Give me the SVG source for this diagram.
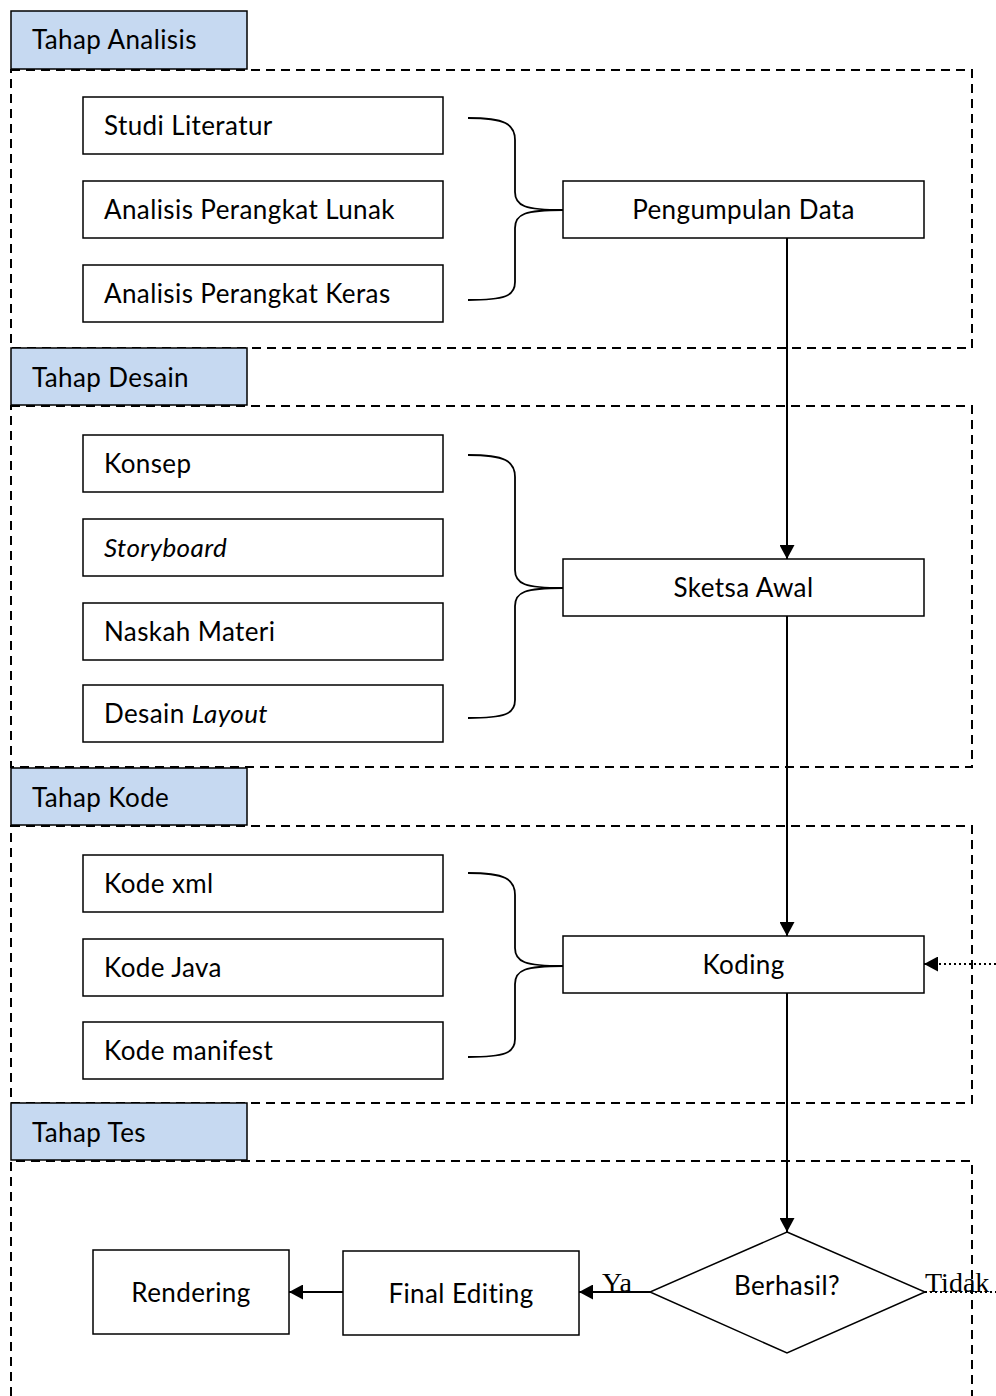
<svg xmlns="http://www.w3.org/2000/svg" width="996" height="1396" viewBox="0 0 996 1396">
  <defs>
    <marker id="arrowBig" viewBox="0 0 14 15" refX="14" refY="7.5" markerWidth="14" markerHeight="15" markerUnits="userSpaceOnUse" orient="auto">
      <path d="M0,0 L14,7.5 L0,15 z" fill="#000"/>
    </marker>
  </defs>
  <style>
    .box { fill: #fff; stroke: #000; stroke-width: 1.5; }
    .tab { fill: #c6d9f1; stroke: #000; stroke-width: 1.5; }
    .section { fill: none; stroke: #000; stroke-width: 2; stroke-dasharray: 9 6; }
    .label { font-family: Lato, "Liberation Sans", sans-serif; font-size: 26px; letter-spacing: 0.4px; fill: #000; }
    .mid { text-anchor: middle; }
    .serif { font-family: "Liberation Serif", serif; font-size: 28px; fill: #000; }
    .line { fill: none; stroke: #000; stroke-width: 2; }
    .brace { fill: none; stroke: #000; stroke-width: 1.8; }
    .dotted { fill: none; stroke: #000; stroke-width: 2; stroke-dasharray: 2 3; }
  </style>
  <rect width="996" height="1396" fill="#fff"/>

  <!-- phase sections -->
  <g id="sections">
    <path class="section" d="M11,1396 V1161 H972 V1396"/>
    <rect class="section" x="11" y="826" width="961" height="277"/>
    <rect class="section" x="11" y="406" width="961" height="361"/>
    <rect class="section" x="11" y="70" width="961" height="278"/>
  </g>

  <!-- phase tabs -->
  <g id="tab-analisis">
    <rect class="tab" x="11" y="11" width="236" height="58"/>
    <text class="label" x="32" y="49">Tahap Analisis</text>
  </g>
  <g id="tab-desain">
    <rect class="tab" x="11" y="348" width="236" height="57"/>
    <text class="label" x="32" y="387">Tahap Desain</text>
  </g>
  <g id="tab-kode">
    <rect class="tab" x="11" y="768" width="236" height="57"/>
    <text class="label" x="32" y="807">Tahap Kode</text>
  </g>
  <g id="tab-tes">
    <rect class="tab" x="11" y="1103" width="236" height="57"/>
    <text class="label" x="32" y="1142">Tahap Tes</text>
  </g>

  <!-- analysis phase -->
  <g id="studi-literatur">
    <rect class="box" x="83" y="97" width="360" height="57"/>
    <text class="label" x="104" y="135">Studi Literatur</text>
  </g>
  <g id="analisis-lunak">
    <rect class="box" x="83" y="181" width="360" height="57"/>
    <text class="label" x="104" y="219">Analisis Perangkat Lunak</text>
  </g>
  <g id="analisis-keras">
    <rect class="box" x="83" y="265" width="360" height="57"/>
    <text class="label" x="104" y="303">Analisis Perangkat Keras</text>
  </g>
  <g id="pengumpulan-data">
    <rect class="box" x="563" y="181" width="361" height="57"/>
    <text class="label mid" x="743.5" y="219">Pengumpulan Data</text>
  </g>

  <!-- design phase -->
  <g id="konsep">
    <rect class="box" x="83" y="435" width="360" height="57"/>
    <text class="label" x="104" y="473">Konsep</text>
  </g>
  <g id="storyboard">
    <rect class="box" x="83" y="519" width="360" height="57"/>
    <text class="label" x="104" y="557" font-style="italic">Storyboard</text>
  </g>
  <g id="naskah-materi">
    <rect class="box" x="83" y="603" width="360" height="57"/>
    <text class="label" x="104" y="641">Naskah Materi</text>
  </g>
  <g id="desain-layout">
    <rect class="box" x="83" y="685" width="360" height="57"/>
    <text class="label" x="104" y="723">Desain <tspan font-style="italic">Layout</tspan></text>
  </g>
  <g id="sketsa-awal">
    <rect class="box" x="563" y="559" width="361" height="57"/>
    <text class="label mid" x="743.5" y="597">Sketsa Awal</text>
  </g>

  <!-- code phase -->
  <g id="kode-xml">
    <rect class="box" x="83" y="855" width="360" height="57"/>
    <text class="label" x="104" y="893">Kode xml</text>
  </g>
  <g id="kode-java">
    <rect class="box" x="83" y="939" width="360" height="57"/>
    <text class="label" x="104" y="977">Kode Java</text>
  </g>
  <g id="kode-manifest">
    <rect class="box" x="83" y="1022" width="360" height="57"/>
    <text class="label" x="104" y="1060">Kode manifest</text>
  </g>
  <g id="koding">
    <rect class="box" x="563" y="936" width="361" height="57"/>
    <text class="label mid" x="743.5" y="974">Koding</text>
  </g>

  <!-- test phase -->
  <g id="rendering">
    <rect class="box" x="93" y="1250" width="196" height="84"/>
    <text class="label mid" x="191" y="1302">Rendering</text>
  </g>
  <g id="final-editing">
    <rect class="box" x="343" y="1251" width="236" height="84"/>
    <text class="label mid" x="461" y="1303">Final Editing</text>
  </g>
  <g id="berhasil">
    <path class="box" d="M787,1232 L925,1292 L787,1353 L650,1292 z"/>
    <text class="label mid" x="787" y="1295">Berhasil?</text>
  </g>

  <!-- connectors -->
  <g id="connectors">
    <!-- braces -->
    <path class="brace" d="M468,118 C505,118 515,124 515,140 V192 C515,206 525,210 563,210 C525,210 515,214 515,228 V282 C515,296 505,300 468,300"/>
    <path class="brace" d="M468,455 C505,455 515,461 515,477 V570 C515,584 525,588 563,588 C525,588 515,592 515,606 V700 C515,714 505,718 468,718"/>
    <path class="brace" d="M468,873 C505,873 515,879 515,895 V948 C515,962 525,966 563,966 C525,966 515,970 515,984 V1039 C515,1053 505,1057 468,1057"/>

    <!-- main flow -->
    <path class="line" d="M787,238 V559" marker-end="url(#arrowBig)"/>
    <path class="line" d="M787,616 V936" marker-end="url(#arrowBig)"/>
    <path class="line" d="M787,993 V1232" marker-end="url(#arrowBig)"/>
    <path class="line" d="M650,1292 H579" marker-end="url(#arrowBig)"/>
    <path class="line" d="M343,1292 H289" marker-end="url(#arrowBig)"/>

    <!-- retry loop -->
    <path class="dotted" d="M925,1292 H996"/>
    <path class="dotted" d="M996,964 H924" marker-end="url(#arrowBig)"/>

    <text class="serif" x="602" y="1292">Ya</text>
    <text class="serif" x="925" y="1292">Tidak</text>
  </g>
</svg>
